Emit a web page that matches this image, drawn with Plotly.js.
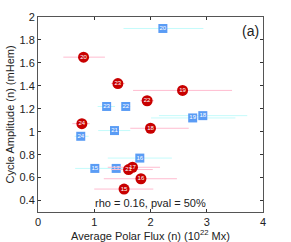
<!DOCTYPE html>
<html><head><meta charset="utf-8">
<script src="https://cdn.plot.ly/plotly-3.0.1.min.js"></script>
<style>html,body{margin:0;padding:0;background:#fff}#p{width:291px;height:242px}</style>
</head><body><div id="p"></div>
<script>
// Red circles (series A)
const redLabels = ['15','16','17','18','19','20','21','22','23','24'];
const redX      = [1.53, 1.83, 1.68, 2.00, 2.57, 0.81, 1.61, 1.94, 1.42, 0.78];
const redY      = [0.50, 0.59, 0.69, 1.03, 1.36, 1.65, 0.67, 1.27, 1.42, 1.07];
const redXlo    = [1.00, 1.17, 1.24, 1.64, 1.69, 0.45, 1.30, 1.82, 1.30, 0.61];
const redXhi    = [2.05, 2.47, 2.17, 2.68, 3.45, 1.19, 2.04, 2.06, 1.54, 0.92];
// Blue squares (series B)
const blueLabels = ['15','16','17','18','19','20','21','22','23','24'];
const blueX      = [1.01, 1.81, 1.39, 2.93, 2.75, 2.22, 1.36, 1.56, 1.22, 0.76];
const blueY      = [0.68, 0.77, 0.68, 1.14, 1.12, 1.90, 1.01, 1.22, 1.22, 0.96];
const blueXlo    = [0.66, 1.24, 1.10, 2.15, 2.01, 1.52, 1.07, 1.48, 1.06, 0.65];
const blueXhi    = [1.28, 2.38, 1.65, 3.72, 3.51, 2.94, 1.64, 1.64, 1.37, 0.90];

const xTicks = [0, 1, 2, 3, 4];
const yTicks = [0.4, 0.6, 0.8, 1, 1.2, 1.4, 1.6, 1.8, 2];

function ebar(x, lo, hi, color) {
  return {type:'data', symmetric:false,
    array: x.map((v,i)=>hi[i]-v), arrayminus: x.map((v,i)=>v-lo[i]),
    color: color, thickness: 1, width: 0};
}

const traces = [
  {x: blueX, y: blueY, text: blueLabels, type:'scatter', mode:'markers+text',
   marker:{symbol:'square', size:9, color:'#5a9cf5', line:{width:0}},
   error_x: ebar(blueX, blueXlo, blueXhi, '#c4fbfb'),
   textposition:'middle center', textfont:{family:'Arial, Liberation Sans', size:6, color:'#ffffff'},
   hoverinfo:'none', showlegend:false, cliponaxis:false},
  {x: redX, y: redY, text: redLabels, type:'scatter', mode:'markers+text',
   marker:{symbol:'circle', size:11, color:'#c80000', line:{width:0}},
   error_x: ebar(redX, redXlo, redXhi, '#ffbcd0'),
   textposition:'middle center', textfont:{family:'Arial, Liberation Sans', size:6, color:'#ffffff'},
   hoverinfo:'none', showlegend:false, cliponaxis:false}
];

const layout = {
  width: 291, height: 242,
  margin: {l: 38, r: 28, t: 17, b: 30},
  paper_bgcolor: '#ffffff', plot_bgcolor: '#ffffff',
  font: {family: 'Liberation Sans, Arial, sans-serif', size: 11, color: '#222'},
  xaxis: {range: [0, 4], tickvals: xTicks, ticktext: xTicks.map(String),
    ticks: 'inside', ticklen: 3, tickcolor: '#333', showgrid: false, zeroline: false,
    showline: true, linecolor: '#555', linewidth: 1, mirror: 'ticks',
    tickfont: {size: 11}, title: {text: 'Average Polar Flux (n) (10<sup>22</sup> Mx)', font: {size: 11}, standoff: 3}},
  yaxis: {range: [0.3, 2], tickvals: yTicks, ticktext: yTicks.map(String),
    ticks: 'inside', ticklen: 3, tickcolor: '#333', showgrid: false, zeroline: false,
    showline: true, linecolor: '#555', linewidth: 1, mirror: 'ticks',
    tickfont: {size: 11}, title: {text: 'Cycle Amplitude (n) (mHem)', font: {size: 11}, standoff: 2}},
  annotations: [
    {x: 1, y: 1, xref: 'paper', yref: 'paper', xanchor: 'right', yanchor: 'top',
     text: '(a)', showarrow: false, font: {size: 14, color: '#222'}, xshift: -2, yshift: -4},
    {x: 0.5, y: 0, xref: 'paper', yref: 'paper', xanchor: 'center', yanchor: 'bottom',
     text: 'rho = 0.16, pval = 50%', showarrow: false, font: {size: 11, color: '#222'}, yshift: 1}
  ]
};
Plotly.newPlot('p', traces, layout, {displayModeBar: false, staticPlot: true});
</script></body></html>
